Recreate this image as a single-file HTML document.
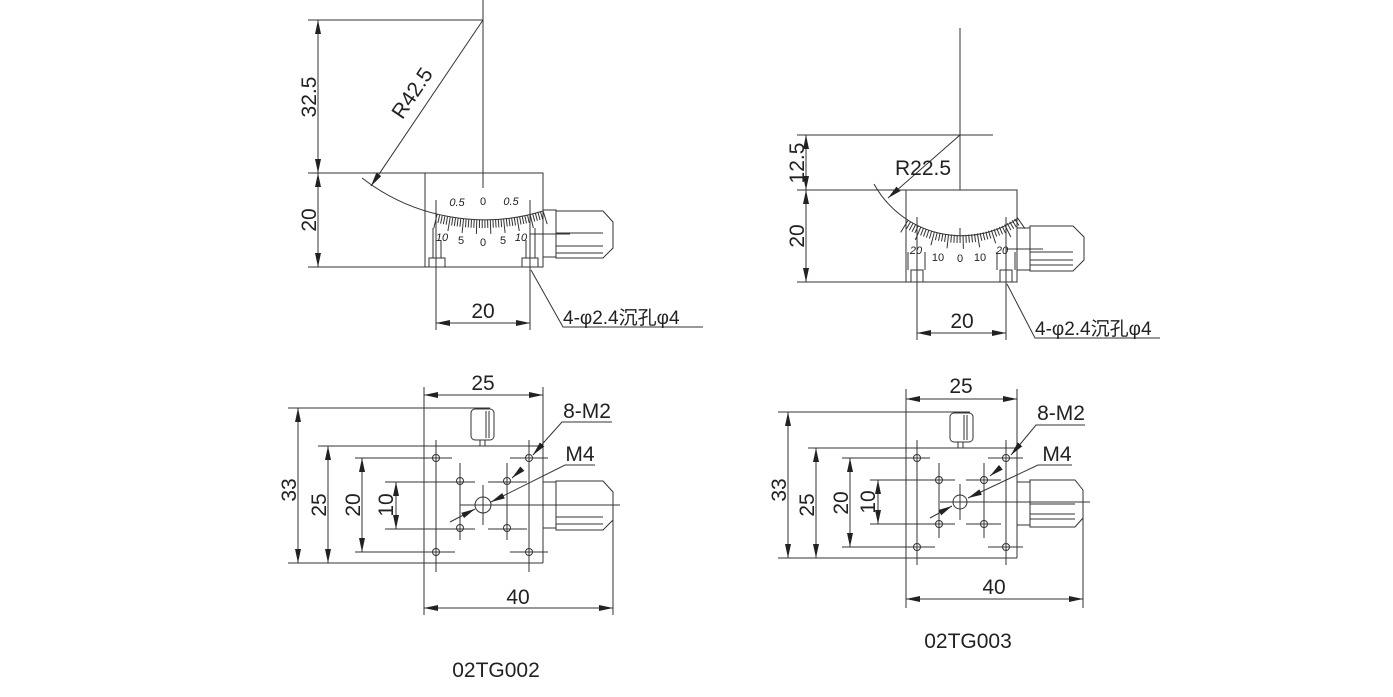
<!DOCTYPE html>
<html><head><meta charset="utf-8"><style>
html,body{margin:0;padding:0;background:#fff}
svg{display:block}
text{font-family:"Liberation Sans","Noto Sans CJK SC",sans-serif;fill:#222}
</style></head><body>
<svg id="s" width="1393" height="697" viewBox="0 0 1393 697" xmlns="http://www.w3.org/2000/svg">
<defs>
<marker id="a" viewBox="0 0 14 6" refX="14" refY="3" markerWidth="14" markerHeight="6" orient="auto-start-reverse" markerUnits="userSpaceOnUse"><path d="M0,0L14,3L0,6z" fill="#222"/></marker>
</defs>
<g stroke="#333" stroke-width="1" fill="none">
<line x1="483" y1="0" x2="483" y2="173"/>
<line x1="308" y1="20" x2="483" y2="20"/>
<line x1="308" y1="173" x2="543" y2="173"/>
<line x1="308" y1="267" x2="543" y2="267"/>
<line x1="318" y1="20" x2="318" y2="173" marker-start="url(#a)" marker-end="url(#a)"/>
<line x1="318" y1="173" x2="318" y2="267" marker-start="url(#a)" marker-end="url(#a)"/>
<line x1="483" y1="20" x2="371" y2="186" marker-end="url(#a)"/>
<path d="M362,178 A200,200 0 0 0 543,211"/>
<rect x="425" y="173" width="118" height="94"/>
<line x1="436" y1="200" x2="436" y2="330"/>
<line x1="530" y1="200" x2="530" y2="330"/>
<rect x="429" y="258" width="16" height="9"/>
<rect x="522" y="258" width="16" height="9"/>
<line x1="433" y1="228" x2="433" y2="258"/><line x1="441" y1="240" x2="441" y2="258"/>
<line x1="526" y1="240" x2="526" y2="258"/><line x1="535" y1="228" x2="535" y2="258"/>
<rect x="543" y="210" width="13" height="47"/>
<path d="M556,211 H603 L613,222 V248 L603,258 H556 Z"/>
<line x1="556" y1="233" x2="603" y2="233"/><line x1="556" y1="246" x2="603" y2="246"/><line x1="556" y1="253" x2="603" y2="253"/>
<line x1="530" y1="234" x2="570" y2="234"/>
<line x1="436" y1="323" x2="530" y2="323" marker-start="url(#a)" marker-end="url(#a)"/>
<polyline points="531,270 563,327 703,327"/>
<line x1="483" y1="173" x2="483" y2="188"/>
<g id="t1"></g>
<line x1="424" y1="387" x2="424" y2="615"/>
<line x1="543" y1="387" x2="543" y2="563"/>
<line x1="424" y1="395" x2="543" y2="395" marker-start="url(#a)" marker-end="url(#a)"/>
<line x1="288" y1="408" x2="490" y2="408"/>
<line x1="288" y1="563" x2="543" y2="563"/>
<line x1="298" y1="408" x2="298" y2="563" marker-start="url(#a)" marker-end="url(#a)"/>
<line x1="318" y1="446" x2="543" y2="446"/>
<line x1="328" y1="446" x2="328" y2="563" marker-start="url(#a)" marker-end="url(#a)"/>
<line x1="355" y1="458" x2="452" y2="458"/><line x1="355" y1="552" x2="455" y2="552"/>
<line x1="362" y1="458" x2="362" y2="552" marker-start="url(#a)" marker-end="url(#a)"/>
<line x1="385" y1="482" x2="475" y2="482"/><line x1="385" y1="529" x2="475" y2="529"/>
<line x1="396" y1="482" x2="396" y2="529" marker-start="url(#a)" marker-end="url(#a)"/>
<line x1="436" y1="440" x2="436" y2="572"/><line x1="529" y1="440" x2="529" y2="572"/>
<line x1="510" y1="458" x2="548" y2="458"/><line x1="510" y1="552" x2="548" y2="552"/>
<line x1="460" y1="463" x2="460" y2="540"/><line x1="507" y1="463" x2="507" y2="540"/>
<line x1="488" y1="482" x2="527" y2="482"/><line x1="488" y1="529" x2="527" y2="529"/>
<line x1="483" y1="485" x2="483" y2="525"/>
<line x1="460" y1="505" x2="620" y2="505"/>
<circle cx="436" cy="458" r="3.5"/><circle cx="529" cy="458" r="3.5"/><circle cx="436" cy="552" r="3.5"/><circle cx="529" cy="552" r="3.5"/>
<circle cx="460" cy="481" r="3.5"/><circle cx="507" cy="481" r="3.5"/><circle cx="460" cy="528" r="3.5"/><circle cx="507" cy="528" r="3.5"/>
<circle cx="483" cy="505" r="8"/>
<rect x="471" y="409" width="23" height="31" rx="4"/><line x1="486" y1="411" x2="486" y2="438"/><line x1="489" y1="411" x2="489" y2="438"/>
<line x1="480" y1="440" x2="480" y2="446"/><line x1="485" y1="440" x2="485" y2="446"/>
<rect x="543" y="482" width="13" height="46"/>
<path d="M556,481 H603 L613,492 V520 L603,530 H556 Z"/>
<line x1="556" y1="517" x2="603" y2="517"/><line x1="556" y1="524" x2="603" y2="524"/>
<line x1="613" y1="520" x2="613" y2="615"/>
<line x1="424" y1="608" x2="613" y2="608" marker-start="url(#a)" marker-end="url(#a)"/>
<polyline points="612,422 562,422 545,441" />
<line x1="545" y1="441" x2="533" y2="455" marker-end="url(#a)"/>
<line x1="522" y1="469" x2="512" y2="478" marker-end="url(#a)"/>
<polyline points="595,465 565,465 491,502" marker-end="url(#a)"/>
<line x1="450" y1="522" x2="475" y2="509" marker-end="url(#a)"/>

<line x1="960" y1="28" x2="960" y2="190"/>
<line x1="797" y1="135" x2="993" y2="135"/>
<line x1="797" y1="190" x2="1017" y2="190"/>
<line x1="797" y1="282" x2="906" y2="282"/>
<line x1="806" y1="135" x2="806" y2="190" marker-start="url(#a)" marker-end="url(#a)"/>
<line x1="806" y1="190" x2="806" y2="282" marker-start="url(#a)" marker-end="url(#a)"/>
<line x1="960" y1="135" x2="888" y2="198" marker-end="url(#a)"/>
<path d="M874,184 A100,100 0 0 0 1017,219"/>
<rect x="906" y="190" width="111" height="92"/>
<line x1="917" y1="217" x2="917" y2="340"/>
<line x1="1006" y1="217" x2="1006" y2="340"/>
<rect x="911" y="270" width="12" height="12"/><rect x="1000" y="270" width="12" height="12"/>
<line x1="908" y1="252" x2="908" y2="270"/><line x1="925" y1="252" x2="925" y2="270"/>
<line x1="997" y1="252" x2="997" y2="270"/><line x1="1015" y1="252" x2="1015" y2="270"/>
<rect x="1017" y="228" width="13" height="42"/>
<path d="M1030,226 H1073 L1084,237 V260 L1073,271 H1030 Z"/>
<line x1="1030" y1="252" x2="1073" y2="252"/><line x1="1030" y1="260" x2="1073" y2="260"/><line x1="1030" y1="265" x2="1073" y2="265"/>
<line x1="1006" y1="249" x2="1043" y2="249"/>
<line x1="917" y1="333" x2="1006" y2="333" marker-start="url(#a)" marker-end="url(#a)"/>
<polyline points="1007,284 1035,338 1160,338"/>
<line x1="960" y1="228" x2="960" y2="240"/>
<g id="t2"></g>
<line x1="906" y1="389" x2="906" y2="608"/>
<line x1="1017" y1="389" x2="1017" y2="558"/>
<line x1="906" y1="399" x2="1017" y2="399" marker-start="url(#a)" marker-end="url(#a)"/>
<line x1="778" y1="412" x2="970" y2="412"/>
<line x1="778" y1="558" x2="1017" y2="558"/>
<line x1="788" y1="412" x2="788" y2="558" marker-start="url(#a)" marker-end="url(#a)"/>
<line x1="808" y1="448" x2="1017" y2="448"/>
<line x1="816" y1="448" x2="816" y2="558" marker-start="url(#a)" marker-end="url(#a)"/>
<line x1="842" y1="458" x2="930" y2="458"/><line x1="842" y1="547" x2="935" y2="547"/>
<line x1="850" y1="458" x2="850" y2="547" marker-start="url(#a)" marker-end="url(#a)"/>
<line x1="870" y1="480" x2="955" y2="480"/><line x1="870" y1="524" x2="955" y2="524"/>
<line x1="878" y1="480" x2="878" y2="524" marker-start="url(#a)" marker-end="url(#a)"/>
<line x1="917" y1="440" x2="917" y2="565"/><line x1="1006" y1="440" x2="1006" y2="565"/>
<line x1="988" y1="458" x2="1023" y2="458"/><line x1="988" y1="547" x2="1023" y2="547"/>
<line x1="939" y1="463" x2="939" y2="538"/><line x1="984" y1="463" x2="984" y2="538"/>
<line x1="966" y1="480" x2="1001" y2="480"/><line x1="966" y1="524" x2="1001" y2="524"/>
<line x1="960" y1="484" x2="960" y2="520"/>
<line x1="940" y1="502" x2="1090" y2="502"/>
<circle cx="917" cy="458" r="3.5"/><circle cx="1006" cy="458" r="3.5"/><circle cx="917" cy="547" r="3.5"/><circle cx="1006" cy="547" r="3.5"/>
<circle cx="939" cy="480" r="3.5"/><circle cx="984" cy="480" r="3.5"/><circle cx="939" cy="524" r="3.5"/><circle cx="984" cy="524" r="3.5"/>
<circle cx="960" cy="502" r="7"/>
<rect x="950" y="413" width="23" height="29" rx="4"/><line x1="964" y1="415" x2="964" y2="440"/><line x1="967" y1="415" x2="967" y2="440"/>
<line x1="958" y1="442" x2="958" y2="448"/><line x1="963" y1="442" x2="963" y2="448"/>
<rect x="1017" y="482" width="13" height="43"/>
<path d="M1030,480 H1075 L1083,490 V518 L1075,527 H1030 Z"/>
<line x1="1030" y1="504" x2="1075" y2="504"/><line x1="1030" y1="514" x2="1075" y2="514"/><line x1="1030" y1="519" x2="1075" y2="519"/>
<line x1="1083" y1="518" x2="1083" y2="608"/>
<line x1="906" y1="599" x2="1083" y2="599" marker-start="url(#a)" marker-end="url(#a)"/>
<polyline points="1085,425 1036,425 1022,442"/>
<line x1="1022" y1="442" x2="1011" y2="455" marker-end="url(#a)"/>
<line x1="1000" y1="468" x2="990" y2="476" marker-end="url(#a)"/>
<polyline points="1072,465 1038,465 968,498" marker-end="url(#a)"/>
<line x1="930" y1="518" x2="952" y2="506" marker-end="url(#a)"/>
</g>
<g font-size="21">
<text transform="translate(316,97) rotate(-90)" text-anchor="middle">32.5</text>
<text transform="translate(316,220) rotate(-90)" text-anchor="middle">20</text>
<text transform="translate(418,97) rotate(-56)" text-anchor="middle">R42.5</text>
<text x="483" y="318" text-anchor="middle">20</text>
<text x="563" y="324" font-size="19">4-φ2.4沉孔φ4</text>
<text x="483" y="390" text-anchor="middle">25</text>
<text transform="translate(296,490) rotate(-90)" text-anchor="middle">33</text>
<text transform="translate(326,505) rotate(-90)" text-anchor="middle">25</text>
<text transform="translate(360,505) rotate(-90)" text-anchor="middle">20</text>
<text transform="translate(393,505) rotate(-90)" text-anchor="middle">10</text>
<text x="587" y="418" text-anchor="middle">8-M2</text>
<text x="580" y="461" text-anchor="middle">M4</text>
<text x="518" y="604" text-anchor="middle">40</text>
<text x="496" y="677" text-anchor="middle">02TG002</text>

<text transform="translate(804,163) rotate(-90)" text-anchor="middle">12.5</text>
<text transform="translate(804,236) rotate(-90)" text-anchor="middle">20</text>
<text x="923" y="175" text-anchor="middle">R22.5</text>
<text x="962" y="328" text-anchor="middle">20</text>
<text x="1035" y="335" font-size="19">4-φ2.4沉孔φ4</text>
<text x="961" y="393" text-anchor="middle">25</text>
<text transform="translate(786,490) rotate(-90)" text-anchor="middle">33</text>
<text transform="translate(814,505) rotate(-90)" text-anchor="middle">25</text>
<text transform="translate(848,503) rotate(-90)" text-anchor="middle">20</text>
<text transform="translate(875,502) rotate(-90)" text-anchor="middle">10</text>
<text x="1061" y="420" text-anchor="middle">8-M2</text>
<text x="1057" y="461" text-anchor="middle">M4</text>
<text x="994" y="594" text-anchor="middle">40</text>
<text x="968" y="648" text-anchor="middle">02TG003</text>
</g>
<g font-size="11">
<text x="457" y="206" text-anchor="middle" font-style="italic">0.5</text>
<text x="483" y="205" text-anchor="middle">0</text>
<text x="511" y="205" text-anchor="middle" font-style="italic">0.5</text>
<text x="442" y="241" text-anchor="middle" font-style="italic">10</text>
<text x="461" y="244" text-anchor="middle">5</text>
<text x="483" y="246" text-anchor="middle">0</text>
<text x="503" y="244" text-anchor="middle">5</text>
<text x="521" y="241" text-anchor="middle" font-style="italic">10</text>
<text x="916" y="254" text-anchor="middle" font-style="italic">20</text>
<text x="938" y="261" text-anchor="middle">10</text>
<text x="960" y="262" text-anchor="middle">0</text>
<text x="980" y="261" text-anchor="middle">10</text>
<text x="1002" y="254" text-anchor="middle" font-style="italic">20</text>
</g>
</svg>
<script>
function ticks(id,cx,cy,r,x0,x1,n,sl,ll){
 var g=document.getElementById(id),s='';
 var a0=Math.asin((x0-cx)/r),a1=Math.asin((x1-cx)/r);
 for(var i=0;i<=n;i++){var a=a0+(a1-a0)*i/n;var L=(i%5==0)?ll:sl;
  var sx=cx+r*Math.sin(a),sy=cy+r*Math.cos(a),ex=cx+(r+L)*Math.sin(a),ey=cy+(r+L)*Math.cos(a);
  s+='<line x1="'+sx.toFixed(1)+'" y1="'+sy.toFixed(1)+'" x2="'+ex.toFixed(1)+'" y2="'+ey.toFixed(1)+'"/>';}
 g.innerHTML=s;}
ticks('t1',483,20,200,437,543,40,8,14);
ticks('t2',960,135,100,908,1017,40,8,14);
</script>
</body></html>
